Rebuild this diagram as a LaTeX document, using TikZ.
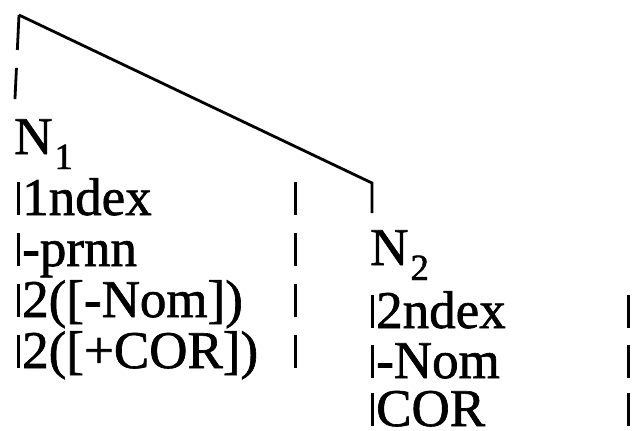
\documentclass[tikz,border=0pt]{standalone}
\usepackage{fontspec}
\setmainfont[FakeBold=1.2]{Liberation Serif}
\usetikzlibrary{calc}
\newcommand{\nsub}[1]{\kern2pt\raisebox{-15pt}{\fontsize{37}{37}\selectfont #1}}
\newcommand{\featrow}[5]{%
  \draw[bar] (#2,#3) -- ++(0,-33);
  \node[feat] (#1) at ({#2+4},#3) {#5};
  \draw[bar] (#4,#3) -- ++(0,-33);
}

\begin{document}
\begin{tikzpicture}[x=1pt, y=-1pt,
    feat/.style={anchor=base west, inner sep=0pt, font=\fontsize{53}{53}\selectfont},
    bar/.style={line width=3pt},
    branch/.style={line width=2.8pt, line join=miter}]
  \useasboundingbox (0,0) rectangle (633,431);

  % category nodes
  \node[feat] (n1) at (14,154) {N\nsub{1}};
  \node[feat] (n2) at (370,265) {N\nsub{2}};

  % tree
  \coordinate (top) at (19,15);
  \coordinate (knee) at (372,183);
  \draw[branch, dash pattern=on 35pt off 18pt on 40pt, shorten >=20pt] (top) -- (n1.north west);
  \draw[branch] (top) -- (knee) -- ++(0,30);

  % features of N1
  \featrow{f11}{18}{215}{295}{1ndex}
  \featrow{f12}{18}{266}{295}{-prnn}
  \featrow{f13}{18}{317}{295}{2([-Nom])}
  \featrow{f14}{18}{368}{295}{2([+COR])}

  % features of N2
  \featrow{f21}{372}{328}{628}{2ndex}
  \featrow{f22}{372}{378}{628}{-Nom}
  \featrow{f23}{372}{426}{628}{COR}
\end{tikzpicture}
\end{document}
